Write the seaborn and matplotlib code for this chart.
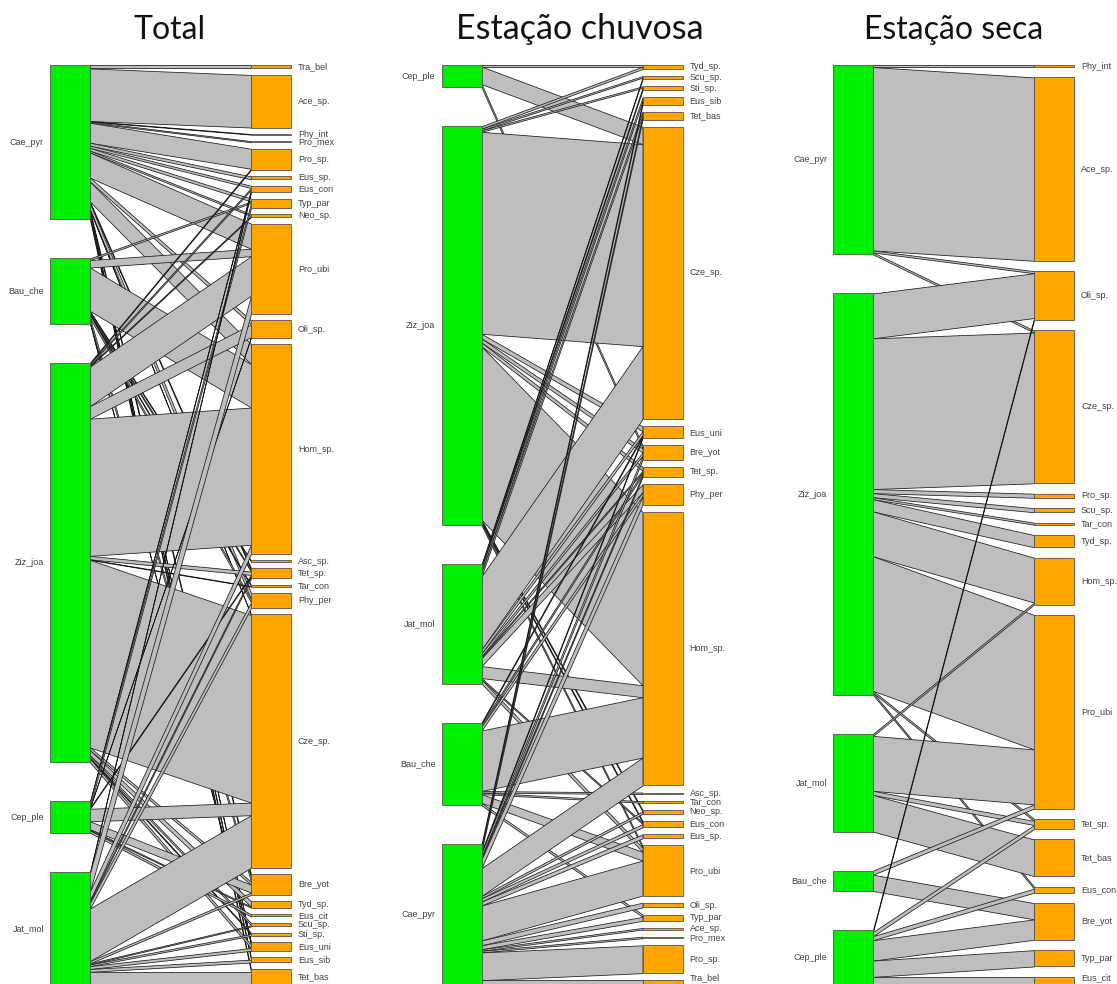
import matplotlib
matplotlib.use("Agg")
import numpy as np
import pandas as pd
import matplotlib.pyplot as plt
import seaborn as sns

# ---------------- interaction data (plants x floral visitors) ----------------
# Total
total_plants = ["Cae_pyr", "Bau_che", "Ziz_joa", "Cep_ple", "Jat_mol"]
total_visitors = ["Tra_bel", "Ace_sp.", "Phy_int", "Pro_mex", "Pro_sp.", "Eus_sp.", "Eus_con",
                  "Typ_par", "Neo_sp.", "Pro_ubi", "Oli_sp.", "Hom_sp.", "Asc_sp.", "Tet_sp.",
                  "Tar_con", "Phy_per", "Cze_sp.", "Bre_yot", "Tyd_sp.", "Eus_cit", "Scu_sp.",
                  "Sti_sp.", "Eus_uni", "Eus_sib", "Tet_bas"]
total_from = (["Cae_pyr"] * 19 + ["Bau_che"] * 9 + ["Ziz_joa"] * 14 + ["Cep_ple"] * 8 + ["Jat_mol"] * 12)
total_to = ["Tra_bel", "Ace_sp.", "Phy_int", "Pro_mex", "Pro_sp.", "Eus_sp.", "Eus_con", "Typ_par",
            "Neo_sp.", "Pro_ubi", "Oli_sp.", "Hom_sp.", "Tet_sp.", "Phy_per", "Cze_sp.", "Bre_yot",
            "Eus_uni", "Eus_sib", "Tet_bas",
            "Typ_par", "Pro_ubi", "Hom_sp.", "Asc_sp.", "Tet_sp.", "Tar_con", "Phy_per", "Bre_yot",
            "Eus_uni",
            "Pro_sp.", "Eus_con", "Neo_sp.", "Pro_ubi", "Oli_sp.", "Hom_sp.", "Tet_sp.", "Tar_con",
            "Cze_sp.", "Bre_yot", "Tyd_sp.", "Scu_sp.", "Sti_sp.", "Eus_uni",
            "Eus_con", "Typ_par", "Oli_sp.", "Tet_sp.", "Cze_sp.", "Bre_yot", "Tyd_sp.", "Eus_cit",
            "Eus_con", "Pro_ubi", "Hom_sp.", "Tet_sp.", "Phy_per", "Cze_sp.", "Bre_yot", "Scu_sp.",
            "Sti_sp.", "Eus_uni", "Eus_sib", "Tet_bas"]
total_n = [6, 92, 1, 2, 35, 5, 4, 5, 3, 44, 7, 35, 3, 11, 1, 5, 2, 4, 5,
           3, 13, 76, 2, 3, 2, 5, 8, 2,
           2, 3, 2, 69, 22, 240, 6, 1, 328, 5, 9, 4, 2, 6,
           2, 8, 1, 2, 22, 14, 2, 4,
           2, 32, 16, 4, 10, 92, 4, 2, 3, 5, 5, 23]

# Estação chuvosa
rainy_plants = ["Cep_ple", "Ziz_joa", "Jat_mol", "Bau_che", "Cae_pyr"]
rainy_visitors = ["Tyd_sp.", "Scu_sp.", "Sti_sp.", "Eus_sib", "Tet_bas", "Cze_sp.", "Eus_uni",
                  "Bre_yot", "Tet_sp.", "Phy_per", "Hom_sp.", "Asc_sp.", "Tar_con", "Neo_sp.",
                  "Eus_con", "Eus_sp.", "Pro_ubi", "Oli_sp.", "Typ_par", "Ace_sp.", "Pro_mex",
                  "Pro_sp.", "Tra_bel"]
rainy_from = (["Cep_ple"] * 3 + ["Ziz_joa"] * 11 + ["Jat_mol"] * 12 + ["Bau_che"] * 8 + ["Cae_pyr"] * 17)
rainy_to = ["Tyd_sp.", "Cze_sp.", "Bre_yot",
            "Tyd_sp.", "Scu_sp.", "Sti_sp.", "Cze_sp.", "Eus_uni", "Bre_yot", "Tet_sp.", "Hom_sp.",
            "Neo_sp.", "Eus_con", "Pro_ubi",
            "Scu_sp.", "Sti_sp.", "Eus_sib", "Tet_bas", "Cze_sp.", "Eus_uni", "Bre_yot", "Tet_sp.",
            "Phy_per", "Hom_sp.", "Eus_con", "Pro_ubi",
            "Eus_uni", "Tet_sp.", "Phy_per", "Hom_sp.", "Asc_sp.", "Tar_con", "Pro_ubi", "Typ_par",
            "Eus_sib", "Tet_bas", "Eus_uni", "Bre_yot", "Tet_sp.", "Phy_per", "Hom_sp.", "Neo_sp.",
            "Eus_con", "Eus_sp.", "Pro_ubi", "Oli_sp.", "Typ_par", "Ace_sp.", "Pro_mex", "Pro_sp.",
            "Tra_bel"]
rainy_n = [2, 22, 4,
           3, 2, 2, 254, 6, 5, 5, 218, 2, 2, 3,
           2, 3, 5, 5, 92, 5, 4, 2, 10, 15, 2, 5,
           2, 3, 5, 76, 2, 2, 11, 3,
           4, 5, 2, 5, 3, 11, 35, 3, 4, 5, 44, 6, 5, 2, 2, 35, 6]

# Estação seca
dry_plants = ["Cae_pyr", "Ziz_joa", "Jat_mol", "Bau_che", "Cep_ple"]
dry_visitors = ["Phy_int", "Ace_sp.", "Oli_sp.", "Cze_sp.", "Pro_sp.", "Scu_sp.", "Tar_con",
                "Tyd_sp.", "Hom_sp.", "Pro_ubi", "Tet_sp.", "Tet_bas", "Eus_con", "Bre_yot",
                "Typ_par", "Eus_cit"]
dry_from = (["Cae_pyr"] * 4 + ["Ziz_joa"] * 10 + ["Jat_mol"] * 4 + ["Bau_che"] * 2 + ["Cep_ple"] * 6)
dry_to = ["Phy_int", "Ace_sp.", "Oli_sp.", "Cze_sp.",
          "Oli_sp.", "Cze_sp.", "Pro_sp.", "Scu_sp.", "Tar_con", "Tyd_sp.", "Hom_sp.", "Pro_ubi",
          "Tet_sp.", "Eus_con",
          "Hom_sp.", "Pro_ubi", "Tet_sp.", "Tet_bas",
          "Pro_ubi", "Bre_yot",
          "Oli_sp.", "Tet_sp.", "Eus_con", "Bre_yot", "Typ_par", "Eus_cit"]
dry_n = [1, 90, 1, 1,
         22, 74, 2, 2, 1, 6, 22, 66, 1, 1,
         1, 27, 2, 18,
         2, 8,
         1, 2, 2, 10, 8, 4]

panels = [
    ("Total", total_plants, total_visitors, total_from, total_to, total_n),
    ("Estação chuvosa", rainy_plants, rainy_visitors, rainy_from, rainy_to, rainy_n),
    ("Estação seca", dry_plants, dry_visitors, dry_from, dry_to, dry_n),
]
title_x_px = [170, 580, 954]
title_size = [23, 24.5, 23]

# ---------------- layout settings ----------------
W_PX, H_PX = 1117, 984
TOP_PX, SPAN_PX = 65, 920          # first box edge and column length in pixels
BOX_FRAC = 764 / 920               # share of the column taken by boxes (rest is gaps)
PANEL_PX = 391.5
LEFT_PAD = 50
BOX_W = 40
LINK_W = 161                       # horizontal distance between the two columns
LABEL_MAX = (H_PX - 6 - TOP_PX) / SPAN_PX   # keep the lowest labels inside the figure

GREEN = "#00EE00"
ORANGE = "#FFA500"
LINK_GREY = "#BEBEBE"
LABEL_COL = "#404040"

sns.set_theme(style="white")
plt.rcParams["font.family"] = ["Liberation Sans", "DejaVu Sans"]


def stack(sizes):
    sizes = np.asarray(sizes, dtype=float)
    unit = BOX_FRAC / sizes.sum()
    gap = (1 - BOX_FRAC) / (len(sizes) - 1)
    heights = sizes * unit
    tops = np.concatenate([[0], np.cumsum(heights + gap)[:-1]])
    return tops, heights, unit


fig = plt.figure(figsize=(W_PX / 100, H_PX / 100), dpi=100)

for k, (title, plants, visitors, src, dst, n) in enumerate(panels):
    links = pd.DataFrame({"plant": src, "visitor": dst, "n": n})
    links["pi"] = links["plant"].map({p: i for i, p in enumerate(plants)})
    links["vi"] = links["visitor"].map({v: i for i, v in enumerate(visitors)})

    p_size = links.groupby("pi")["n"].sum().reindex(range(len(plants))).to_numpy()
    v_size = links.groupby("vi")["n"].sum().reindex(range(len(visitors))).to_numpy()
    p_top, p_h, unit = stack(p_size)
    v_top, v_h, _ = stack(v_size)

    links["h"] = links["n"] * unit
    # segment offsets: on plant boxes ordered by visitor, on visitor boxes ordered by plant
    links = links.sort_values(["pi", "vi"])
    links["l_top"] = p_top[links["pi"]] + links.groupby("pi")["h"].cumsum() - links["h"]
    links = links.sort_values(["vi", "pi"])
    links["r_top"] = v_top[links["vi"]] + links.groupby("vi")["h"].cumsum() - links["h"]
    links = links.sort_values(["pi", "vi"])

    ax = fig.add_axes([(k * PANEL_PX) / W_PX, 0, PANEL_PX / W_PX, 1])
    ax.set_xlim(-LEFT_PAD, PANEL_PX - LEFT_PAD)
    ax.set_ylim((H_PX - TOP_PX) / SPAN_PX, -TOP_PX / SPAN_PX)
    ax.axis("off")

    xl, xr = BOX_W, BOX_W + LINK_W
    for _, r in links.iterrows():
        ax.fill_between([xl, xr], [r.l_top, r.r_top], [r.l_top + r.h, r.r_top + r.h],
                        facecolor=LINK_GREY, edgecolor="#1a1a1a", linewidth=0.55, zorder=2)

    ax.bar(np.full(len(plants), BOX_W / 2), p_h, bottom=p_top, width=BOX_W,
           color=GREEN, edgecolor="#555555", linewidth=0.6, zorder=3)
    ax.bar(np.full(len(visitors), xr + BOX_W / 2), v_h, bottom=v_top, width=BOX_W,
           color=ORANGE, edgecolor="#555555", linewidth=0.6, zorder=3)

    for name, t, h in zip(plants, p_top, p_h):
        ax.text(-6, min(t + h / 2, LABEL_MAX), name, ha="right", va="center",
                fontsize=6.5, color=LABEL_COL)
    for name, t, h in zip(visitors, v_top, v_h):
        ax.text(xr + BOX_W + 7, min(t + h / 2, LABEL_MAX), name, ha="left", va="center",
                fontsize=6.5, color=LABEL_COL)

    fig.text(title_x_px[k] / W_PX, 1 - 39 / H_PX, title, ha="center", va="baseline",
             fontsize=title_size[k], family=["Lato", "DejaVu Sans"], color="#111111")

fig.savefig("out.png", dpi=100)
